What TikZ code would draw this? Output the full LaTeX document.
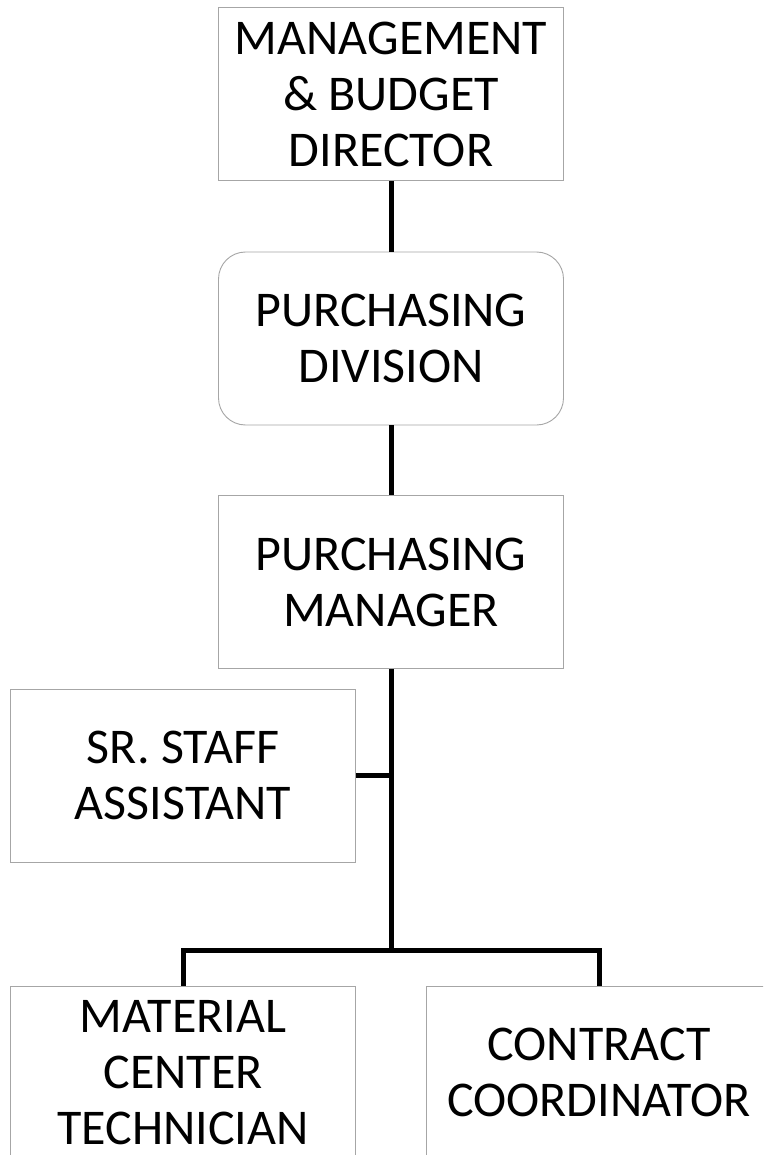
\documentclass[tikz,border=0pt]{standalone}
\usepackage{fontspec}
\setmainfont{Carlito}
\begin{document}
\begin{tikzpicture}[x=1pt,y=-1pt,
  box/.style={rectangle, draw=black!35, line width=0.9pt, fill=white,
    minimum width=345pt, minimum height=173pt, inner sep=0pt,
    align=center, font=\fontsize{50}{56}\selectfont},
  conn/.style={line width=5pt, black, line join=miter}]
\useasboundingbox (0,0) rectangle (763,1155);
\clip (0,0) rectangle (763,1155);
\fill[white] (0,0) rectangle (763,1155);

% organisation boxes
\node[box] (dir)   at (391,94)    {MANAGEMENT\\\& BUDGET\\DIRECTOR};
\node[box, rounded corners=27pt] (div) at (391,338.5) {PURCHASING\\DIVISION};
\node[box] (mgr)   at (391,582)   {PURCHASING\\MANAGER};
\node[box] (staff) at (183,775.5) {SR. STAFF\\ASSISTANT};
\node[box] (mat)   at (183,1072.5) {MATERIAL\\CENTER\\TECHNICIAN};
\node[box] (con)   at (599,1072.5) {CONTRACT\\COORDINATOR};

% reporting lines
\coordinate (bus) at (391,950);
\draw[conn] (dir.south) -- (div.north);
\draw[conn] (div.south) -- (mgr.north);
\draw[conn] (mgr.south) -- (bus);
\draw[conn] (staff.east) -- (staff.east -| bus);
\draw[conn] (mat.north) |- (bus) -| (con.north);
\end{tikzpicture}
\end{document}
